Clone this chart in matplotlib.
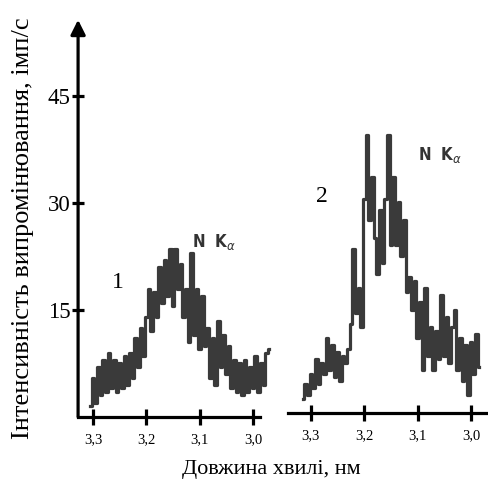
import numpy as np
import matplotlib.pyplot as plt

# спектр 1
wl1 = [3.305, 3.300, 3.295, 3.290, 3.285, 3.280, 3.275, 3.270, 3.265, 3.260,
       3.255, 3.250, 3.245, 3.240, 3.235, 3.230, 3.225, 3.220, 3.215, 3.210,
       3.205, 3.200, 3.195, 3.190, 3.185, 3.180, 3.175, 3.170, 3.165, 3.160,
       3.155, 3.150, 3.145, 3.140, 3.135, 3.130, 3.125, 3.120, 3.115, 3.110,
       3.105, 3.100, 3.095, 3.090, 3.085, 3.080, 3.075, 3.070, 3.065, 3.060,
       3.055, 3.050, 3.045, 3.040, 3.035, 3.030, 3.025, 3.020, 3.015, 3.010,
       3.005, 3.000, 2.995, 2.990, 2.985, 2.980, 2.975, 2.970]
int1 = [1.5, 5.5, 2.0, 7.0, 3.0, 8.0, 3.5, 9.0, 4.0, 8.0,
        3.5, 7.5, 4.0, 8.5, 4.5, 9.0, 5.5, 11.0, 7.0, 12.5,
        8.5, 14.0, 18.0, 12.0, 17.5, 14.0, 21.0, 16.0, 22.0, 17.0,
        23.5, 15.5, 23.5, 18.0, 21.5, 14.0, 18.0, 10.5, 23.0, 11.5,
        18.0, 9.5, 17.0, 10.0, 12.5, 5.5, 11.0, 4.5, 13.5, 7.0,
        11.5, 6.0, 10.0, 4.0, 8.0, 3.5, 7.5, 3.0, 8.0, 3.5,
        7.0, 4.0, 8.5, 3.5, 7.5, 4.5, 9.0, 9.5]

# спектр 2
wl2 = [3.315, 3.310, 3.305, 3.300, 3.295, 3.290, 3.285, 3.280, 3.275, 3.270,
       3.265, 3.260, 3.255, 3.250, 3.245, 3.240, 3.235, 3.230, 3.225, 3.220,
       3.215, 3.210, 3.205, 3.200, 3.195, 3.190, 3.185, 3.180, 3.175, 3.170,
       3.165, 3.160, 3.155, 3.150, 3.145, 3.140, 3.135, 3.130, 3.125, 3.120,
       3.115, 3.110, 3.105, 3.100, 3.095, 3.090, 3.085, 3.080, 3.075, 3.070,
       3.065, 3.060, 3.055, 3.050, 3.045, 3.040, 3.035, 3.030, 3.025, 3.020,
       3.015, 3.010, 3.005, 3.000, 2.995, 2.990, 2.985]
int2 = [2.0, 4.0, 2.5, 5.5, 3.5, 7.5, 4.0, 7.0, 5.5, 10.5,
        6.0, 9.5, 5.0, 8.5, 4.5, 8.0, 7.0, 9.0, 12.5, 23.0,
        14.0, 17.5, 12.0, 30.0, 39.0, 27.0, 33.0, 24.5, 19.5, 28.5,
        21.0, 30.0, 39.0, 23.5, 33.0, 23.5, 29.5, 22.0, 27.0, 17.0,
        19.0, 14.5, 18.5, 10.5, 15.5, 6.0, 17.5, 8.0, 12.0, 6.0,
        11.5, 7.5, 16.5, 8.0, 13.5, 7.0, 12.0, 14.5, 6.0, 10.5,
        4.5, 9.5, 2.5, 10.0, 5.5, 11.0, 6.5]

xticks = [3.3, 3.2, 3.1, 3.0]
xtick_labels = ['3,3', '3,2', '3,1', '3,0']
yticks = [15, 30, 45]

serif = 'Liberation Serif'
line_color = '#3a3a3a'

fig = plt.figure(figsize=(4.88, 4.83), dpi=100)
ax1 = fig.add_axes([0.160, 0.137, 0.373, 0.822])
ax2 = fig.add_axes([0.590, 0.145, 0.410, 0.814])

ax1.plot(wl1, int1, color=line_color, lw=2.3, drawstyle='steps-mid', clip_on=False)
ax2.plot(wl2, int2, color=line_color, lw=2.3, drawstyle='steps-mid', clip_on=False)

ax1.set_xlim(3.328, 2.987)
ax1.set_ylim(0, 55.7)
ax2.set_xlim(3.343, 2.968)
ax2.set_ylim(0, 55.1)

for ax in (ax1, ax2):
    for s in ['top', 'right', 'left']:
        ax.spines[s].set_visible(False)
    ax.spines['bottom'].set_linewidth(2.3)
    ax.set_xticks(xticks)
    ax.set_xticklabels(xtick_labels, fontfamily=serif, fontsize=10.5)
    ax.tick_params(axis='x', direction='inout', length=11, width=2.3, pad=6)
    ax.patch.set_alpha(0)

ax1.set_yticks(yticks)
ax1.set_yticklabels([str(v) for v in yticks], fontfamily=serif, fontsize=16.5)
ax1.tick_params(axis='y', direction='inout', length=9, width=2.3, pad=1)
ax2.set_yticks([])

# вісь з стрілкою
ax1.annotate('', xy=(0, 1), xytext=(0, 0), xycoords='axes fraction',
             arrowprops=dict(arrowstyle='-|>', lw=2.3, color='black',
                             mutation_scale=22, shrinkA=0, shrinkB=0))

ax1.text(3.253, 18.9, '1', fontfamily=serif, fontsize=17, ha='center', va='center')
ax2.text(3.279, 30.3, '2', fontfamily=serif, fontsize=17, ha='center', va='center')

for ax, x, y in [(ax1, 3.114, 23.8), (ax2, 3.099, 35.5)]:
    ax.text(x, y, r'N  K$_{\alpha}$', fontfamily='DejaVu Sans', fontweight='bold',
            fontstretch='condensed', fontsize=12, color='#333333',
            ha='left', va='baseline', clip_on=False)

fig.text(0.047, 0.528, 'Інтенсивність випромінювання, імп/с', fontfamily=serif,
         fontsize=19, rotation=90, ha='center', va='center')
fig.text(0.555, 0.027, 'Довжина хвилі, нм', fontfamily=serif, fontsize=16,
         ha='center', va='center')

fig.savefig('out.png', dpi=100)
